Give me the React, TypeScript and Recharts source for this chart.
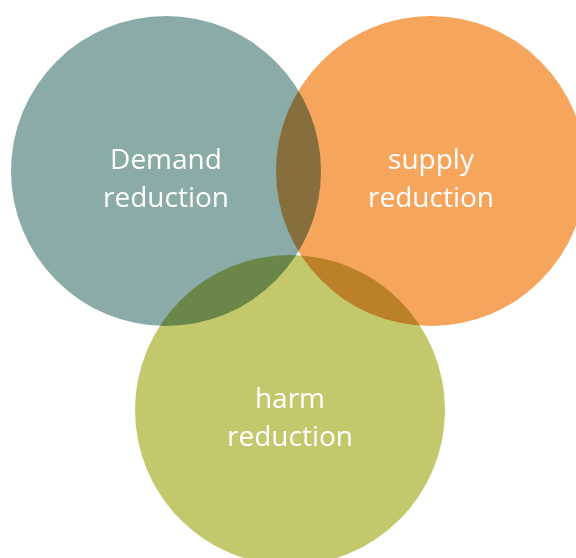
import { ScatterChart, Scatter, XAxis, YAxis } from 'recharts';

// circle centres and radius in px units of the 576x558 canvas
const names = ['Demand reduction', 'supply reduction', 'harm reduction'];
const centreX = [166, 431, 290];
const centreY = [171, 171, 410];
const radius = [155, 155, 155];
const fills = ['#8BABA8', '#F6A55C', '#C3C86D'];
const labelLines = [
    ['Demand', 'reduction'],
    ['supply', 'reduction'],
    ['harm', 'reduction'],
];

const circles = names.map((name, i) => ({ name, x: centreX[i], y: centreY[i], r: radius[i], fill: fills[i], lines: labelLines[i] }));

const W = 576;
const H = 558;

function CircleShape(props: any) {
    const { cx, cy, payload } = props;
    return <circle cx={cx} cy={cy} r={payload.r} fill={payload.fill} style={{ mixBlendMode: 'multiply' }} />;
}

function LabelShape(props: any) {
    const { cx, cy, payload } = props;
    return (
        <text x={cx} y={cy} textAnchor="middle" fill="#ffffff" fontSize={28} fontFamily="'Open Sans', sans-serif">
            <tspan x={cx} dy="-0.08em">{payload.lines[0]}</tspan>
            <tspan x={cx} dy="1.37em">{payload.lines[1]}</tspan>
        </text>
    );
}

export default function App() {
    return (
        <div style={{ position: 'absolute', left: 0, top: 0, width: W, height: H, background: '#fff', overflow: 'hidden' }}>
            <ScatterChart width={W} height={H} margin={{ top: 0, right: 0, bottom: 0, left: 0 }}>
                <XAxis type="number" dataKey="x" domain={[0, W]} hide />
                <YAxis type="number" dataKey="y" domain={[0, H]} reversed hide />
                <Scatter data={circles} shape={CircleShape} isAnimationActive={false} />
                <Scatter data={circles} shape={LabelShape} isAnimationActive={false} />
            </ScatterChart>
        </div>
    );
}
